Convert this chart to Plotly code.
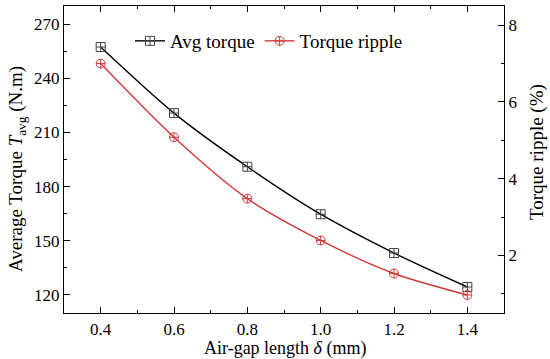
import plotly.graph_objects as go

delta = [0.4, 0.6, 0.8, 1.0, 1.2, 1.4]
avg_torque = [257.3, 220.7, 191.0, 164.7, 143.2, 124.4]
torque_ripple = [7.0, 5.08, 3.48, 2.39, 1.53, 0.97]

x_ticks = [0.4, 0.6, 0.8, 1.0, 1.2, 1.4]
x_ticktext = ["0.4", "0.6", "0.8", "1.0", "1.2", "1.4"]
y_ticks = [120, 150, 180, 210, 240, 270]
y2_ticks = [2, 4, 6, 8]

FONT = "Liberation Serif"
red = "#d03a3a"

# plot area in pixels
L, R, T, B = 64, 504, 6, 313
W, H = R - L, B - T


def px(x):
    return (x - L) / W


def py(y):
    return (B - y) / H


fig = go.Figure()
fig.add_trace(go.Scatter(
    x=delta, y=avg_torque, name="Avg torque", mode="lines+markers",
    line=dict(color="black", width=1.4, shape="spline", smoothing=0.8),
    marker=dict(symbol="square-cross-open", size=9, color="#444444", line=dict(width=1)),
))
fig.add_trace(go.Scatter(
    x=delta, y=torque_ripple, name="Torque ripple", mode="lines+markers", yaxis="y2",
    line=dict(color=red, width=1.4, shape="spline", smoothing=0.8),
    marker=dict(symbol="circle-cross-open", size=9, color=red, line=dict(width=1)),
))

axis_common = dict(
    showline=True, linecolor="black", linewidth=1.2,
    ticks="inside", ticklen=6, tickcolor="black", tickwidth=1.2,
    showgrid=False, zeroline=False, automargin=False,
    tickfont=dict(size=17),
)
minor_common = dict(ticks="inside", ticklen=3, tickcolor="black", tickwidth=1.2, showgrid=False)

fig.update_layout(
    width=550, height=359,
    margin=dict(l=L, r=550 - R, t=T, b=359 - B),
    paper_bgcolor="white", plot_bgcolor="white",
    font=dict(family=FONT, size=18, color="black"),
    showlegend=True,
    legend=dict(orientation="h", x=px(130), y=py(22), xanchor="left", yanchor="top",
                bgcolor="rgba(0,0,0,0)", font=dict(size=19), itemwidth=30),
    xaxis=dict(
        range=[0.3, 1.5], tickvals=x_ticks, ticktext=x_ticktext, mirror="ticks",
        minor=dict(tickvals=[0.3, 0.5, 0.7, 0.9, 1.1, 1.3, 1.5], **minor_common),
        **axis_common,
    ),
    yaxis=dict(
        range=[110, 280], tickvals=y_ticks,
        minor=dict(tickvals=[135, 165, 195, 225, 255], **minor_common),
        **axis_common,
    ),
    yaxis2=dict(
        overlaying="y", side="right", anchor="x",
        range=[0.5, 8.5], tickvals=y2_ticks,
        minor=dict(tickvals=[1, 3, 5, 7], **minor_common),
        **axis_common,
    ),
    annotations=[
        dict(text="Air-gap length <i>δ</i>&nbsp;(mm)", xref="paper", yref="paper",
             x=px(285), y=py(348), showarrow=False, font=dict(size=18),
             xanchor="center", yanchor="middle"),
        dict(text="Average Torque <i>T</i><sub>avg</sub> (N.m)", xref="paper", yref="paper",
             x=px(17), y=py(169), showarrow=False, font=dict(size=19), textangle=-90,
             xanchor="center", yanchor="middle"),
        dict(text="Torque ripple (%)", xref="paper", yref="paper",
             x=px(537), y=py(152), showarrow=False, font=dict(size=19), textangle=-90,
             xanchor="center", yanchor="middle"),
    ],
)

fig.write_html("out.html", config={"displayModeBar": False},
               post_script="document.body.style.margin='0';")
